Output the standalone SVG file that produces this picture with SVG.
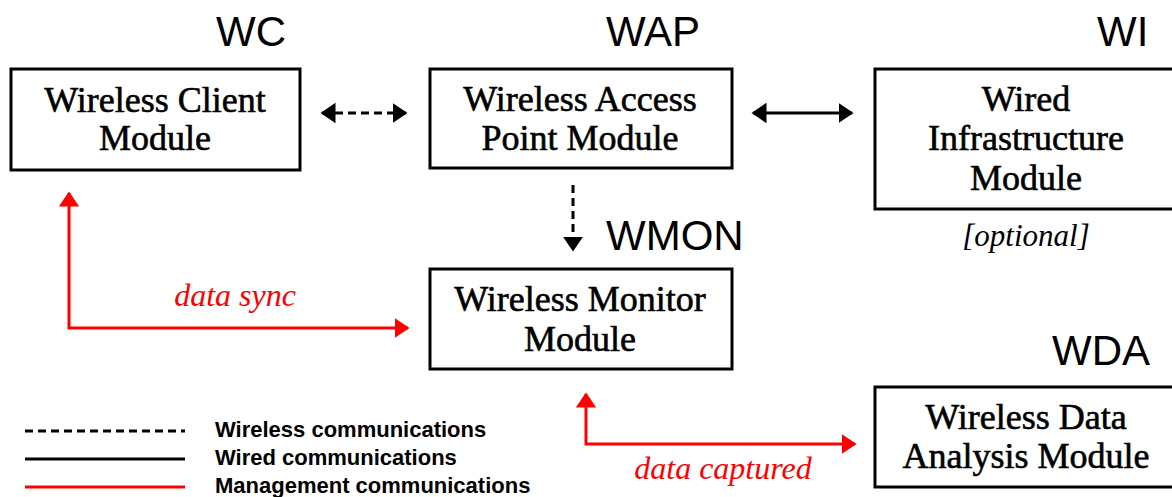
<svg xmlns="http://www.w3.org/2000/svg" width="1172" height="497" viewBox="0 0 1172 497">
<style>
.box{fill:#fff;stroke:#000;stroke-width:3}
.bt{font-family:"Liberation Serif",serif;font-size:36px;fill:#000;stroke:#000;stroke-width:0.6;text-anchor:middle}
.lab{font-family:"Liberation Sans",Arial,sans-serif;font-size:42px;fill:#000}
.red{font-family:"Liberation Serif",serif;font-style:italic;font-size:32px;fill:#f00;text-anchor:middle}
.leg{font-family:"Liberation Sans",Arial,sans-serif;font-weight:bold;font-size:22px;fill:#000}
.wl{stroke:#000;stroke-width:3;stroke-dasharray:8 5;fill:none}
.wd{stroke:#000;stroke-width:3;fill:none}
.mg{stroke:#f00;stroke-width:3;fill:none}
</style>
<defs>
<marker id="ab" markerWidth="6" markerHeight="7" refX="4.5" refY="3.4" orient="auto-start-reverse" markerUnits="strokeWidth"><path d="M0,0 L5,3.4 L0,6.8 z" fill="#000"/></marker>
<marker id="ar" markerWidth="6" markerHeight="7" refX="4.5" refY="3.4" orient="auto-start-reverse" markerUnits="strokeWidth"><path d="M0,0 L5,3.4 L0,6.8 z" fill="#f00"/></marker>
</defs>
<rect width="1172" height="497" fill="#fff"/>
<g id="wc">
<text class="lab" x="216" y="46">WC</text>
<rect class="box" x="11" y="69" width="289" height="101"/>
<text class="bt" x="155" y="112">Wireless Client</text>
<text class="bt" x="155" y="150">Module</text>
</g>
<g id="wap">
<text class="lab" x="606" y="46">WAP</text>
<rect class="box" x="430" y="69" width="302" height="99"/>
<text class="bt" x="580" y="111">Wireless Access</text>
<text class="bt" x="580" y="150">Point Module</text>
</g>
<g id="wi">
<text class="lab" x="1097" y="46">WI</text>
<rect class="box" x="875" y="69" width="300" height="140"/>
<text class="bt" x="1026" y="111">Wired</text>
<text class="bt" x="1026" y="150">Infrastructure</text>
<text class="bt" x="1026" y="190">Module</text>
<text x="1026" y="246" style="font-family:'Liberation Serif',serif;font-style:italic;font-size:31px;fill:#000;text-anchor:middle">[optional]</text>
</g>
<g id="wmon">
<text class="lab" x="606" y="250">WMON</text>
<rect class="box" x="430" y="269" width="302" height="100"/>
<text class="bt" x="580" y="311">Wireless Monitor</text>
<text class="bt" x="580" y="351">Module</text>
</g>
<g id="wda">
<text class="lab" x="1052" y="365">WDA</text>
<rect class="box" x="875" y="387" width="300" height="100"/>
<text class="bt" x="1026" y="429">Wireless Data</text>
<text class="bt" x="1026" y="468">Analysis Module</text>
</g>
<g id="connectors">
<line class="wl" x1="322" y1="113" x2="406" y2="113" marker-start="url(#ab)" marker-end="url(#ab)"/>
<line class="wd" x1="753" y1="113" x2="852" y2="113" marker-start="url(#ab)" marker-end="url(#ab)"/>
<line class="wl" x1="573" y1="185" x2="573" y2="250" marker-end="url(#ab)"/>
<path class="mg" d="M69,193 V328 H408" marker-start="url(#ar)" marker-end="url(#ar)"/>
<text class="red" x="235" y="306">data sync</text>
<path class="mg" d="M586,394 V444 H855" marker-start="url(#ar)" marker-end="url(#ar)"/>
<text class="red" x="723" y="479">data captured</text>
</g>
<g id="legend">
<line class="wl" x1="25" y1="431" x2="185" y2="431" stroke-width="2"/>
<line class="wd" x1="25" y1="459" x2="185" y2="459" stroke-width="2"/>
<line class="mg" x1="25" y1="487" x2="185" y2="487"/>
<text class="leg" x="215" y="437">Wireless communications</text>
<text class="leg" x="215" y="465">Wired communications</text>
<text class="leg" x="215" y="493">Management communications</text>
</g>
</svg>
